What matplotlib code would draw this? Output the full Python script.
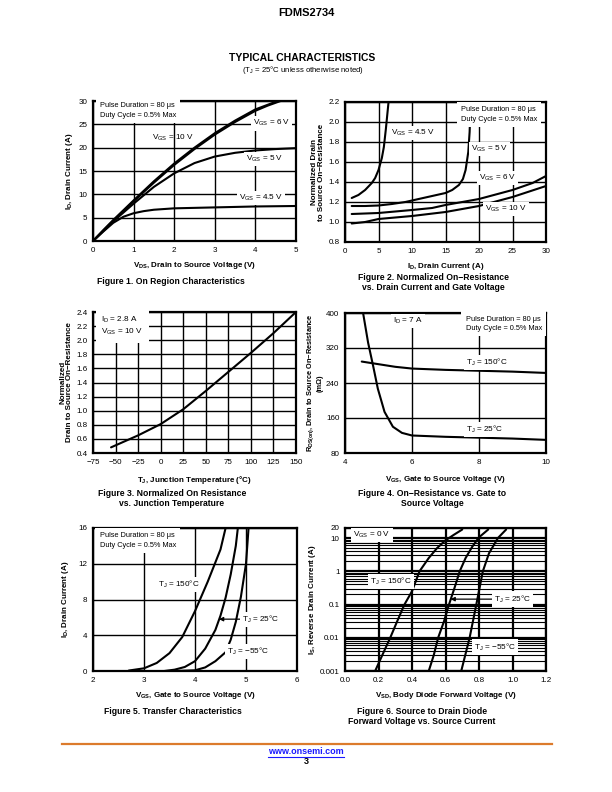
import matplotlib
matplotlib.use('Agg')
import matplotlib.pyplot as plt
from matplotlib.lines import Line2D
from matplotlib.ticker import LogLocator, NullFormatter

plt.rcParams['font.family'] = ['Liberation Sans', 'DejaVu Sans']
plt.rcParams['mathtext.default'] = 'regular'

# ---- Figure 1: on region (VDS, ID) ----
f1_x10 = [0, 0.25, 0.5, 1, 1.5, 2, 2.5, 3, 3.5, 4, 4.55]
f1_y10 = [0, 2.3, 4.5, 8.7, 12.8, 16.6, 20, 23.1, 25.8, 28.2, 30]
f1_x6 = [0, 0.25, 0.5, 1, 1.5, 2, 2.5, 3, 3.5, 4, 4.3, 4.62]
f1_y6 = [0, 2.2, 4.4, 8.5, 12.5, 16.3, 19.7, 22.8, 25.5, 27.9, 29.0, 30]
f1_x5 = [0, 0.25, 0.5, 1, 1.5, 2, 2.5, 3, 3.5, 4, 4.5, 5]
f1_y5 = [0, 2.1, 4.2, 8.0, 11.6, 14.5, 16.7, 18.1, 18.9, 19.4, 19.7, 19.9]
f1_x45 = [0, 0.25, 0.5, 0.75, 1, 1.25, 1.5, 2, 3, 4, 5]
f1_y45 = [0, 2.0, 3.9, 5.2, 5.95, 6.4, 6.7, 7.0, 7.2, 7.4, 7.5]

# ---- Figure 2: normalized Rds(on) vs ID ----
f2_x45 = [1, 2, 3, 4, 4.5, 5, 5.5, 5.8, 6.1, 6.35, 6.5]
f2_y45 = [1.24, 1.27, 1.32, 1.39, 1.44, 1.52, 1.64, 1.75, 1.93, 2.1, 2.2]
f2_x5 = [1, 3, 5, 7, 9, 11, 13, 15, 16, 17, 17.6, 18, 18.4, 18.6, 18.75]
f2_y5 = [1.16, 1.16, 1.165, 1.18, 1.2, 1.23, 1.26, 1.29, 1.32, 1.37, 1.43, 1.52, 1.7, 1.9, 2.2]
f2_x6 = [1, 5, 10, 13, 15, 20, 25, 28, 30]
f2_y6 = [1.08, 1.09, 1.12, 1.14, 1.17, 1.23, 1.32, 1.39, 1.46]
f2_x10 = [1, 3, 5, 10, 15, 20, 25, 30]
f2_y10 = [0.985, 1.0, 1.03, 1.06, 1.1, 1.16, 1.25, 1.36]

# ---- Figure 3: normalized Rds(on) vs TJ ----
f3_t = [-55, -25, 0, 25, 50, 75, 100, 125, 150]
f3_r = [0.48, 0.65, 0.81, 1.02, 1.28, 1.55, 1.82, 2.1, 2.4]

# ---- Figure 4: Rds(on) vs VGS ----
f4_v25 = [4.54, 4.69, 4.84, 4.98, 5.18, 5.43, 5.7, 6, 7, 8, 9, 10]
f4_r25 = [400, 332, 279, 227, 174, 140, 126, 120, 117, 115, 113, 110]
f4_v150 = [4.5, 5, 5.5, 6, 7, 8, 9, 10]
f4_r150 = [289, 283, 277, 273, 270, 268, 266, 263]

# ---- Figure 5: transfer characteristics ----
f5_v150 = [2.7, 3, 3.25, 3.5, 3.75, 4, 4.25, 4.5, 4.6]
f5_i150 = [0.05, 0.3, 0.9, 2.0, 3.8, 6.7, 10, 13.6, 16]
f5_v25 = [3.4, 3.6, 3.8, 4, 4.2, 4.4, 4.5, 4.6, 4.7, 4.8, 4.84]
f5_i25 = [0, 0.15, 0.45, 1.1, 2.5, 4.6, 6.2, 8.2, 10.8, 14, 16]
f5_vm55 = [3.6, 4, 4.2, 4.4, 4.6, 4.7, 4.8, 4.9, 5.0, 5.05]
f5_im55 = [0, 0.08, 0.4, 1.1, 2.1, 3.5, 5.5, 8.3, 12, 16]

# ---- Figure 6: body diode ----
f6_v150 = [0.18, 0.22, 0.27, 0.31, 0.355, 0.4, 0.445, 0.5, 0.55, 0.6, 0.65, 0.7]
f6_i150 = [0.001, 0.0028, 0.01, 0.03, 0.1, 0.25, 1, 2.5, 5, 8.5, 12.5, 18]
f6_v25 = [0.5, 0.53, 0.556, 0.59, 0.621, 0.655, 0.685, 0.72, 0.76, 0.8, 0.855]
f6_i25 = [0.001, 0.003, 0.01, 0.03, 0.1, 0.33, 1, 2.5, 5.5, 10.5, 18]
f6_vm55 = [0.694, 0.744, 0.784, 0.823, 0.86, 0.913, 0.962]
f6_im55 = [0.001, 0.01, 0.1, 1, 3.5, 10, 18]

W, H = 612, 792
fig = plt.figure(figsize=(W / 100, H / 100), dpi=100)

def box(x0, y0, x1, y1):
    return [x0 / W, 1 - y1 / H, (x1 - x0) / W, (y1 - y0) / H]

def ftext(x, y, s, **kw):
    fig.text(x / W, 1 - y / H, s, ha='center', va='center', **kw)

def style(ax):
    for sp in ax.spines.values():
        sp.set_linewidth(1.6)
    ax.tick_params(length=0, pad=4, labelsize=5.8)
    ax.grid(True, color='black', lw=1.0)
    ax.set_axisbelow(True)

white = dict(fc='white', ec='none', pad=1.5)
lab = dict(fontsize=5.8, fontweight='bold')
cap = dict(fontsize=6.2, fontweight='bold')
curve = dict(color='black', lw=1.5, solid_capstyle='round', zorder=3)
fs = 5.9
pulse = 'Pulse Duration = 80 μs\nDuty Cycle = 0.5% Max'
pbox = dict(fc='white', ec='none', pad=3)

# header
ftext(306, 13, 'FDMS2734', fontsize=8, fontweight='bold')
ftext(302, 58, 'TYPICAL CHARACTERISTICS', fontsize=7.5, fontweight='bold')
ftext(303, 70, '(T$_J$ = 25°C unless otherwise noted)', fontsize=5.6)

# Figure 1
ax = fig.add_axes(box(93, 101, 296, 241))
style(ax)
ax.plot(f1_x10, f1_y10, **curve)
ax.plot(f1_x6, f1_y6, **curve)
ax.plot(f1_x5, f1_y5, **curve)
ax.plot(f1_x45, f1_y45, **curve)
ax.set_xlim(0, 5)
ax.set_ylim(0, 30)
ax.set_xticks(range(0, 6))
ax.set_yticks(range(0, 31, 5))
ax.text(0.17, 28.0, pulse, fontsize=5.3, va='center', linespacing=1.5, bbox=pbox, zorder=4)
ax.text(1.45, 22, 'V$_{GS}$ = 10 V', fontsize=fs, va='center', zorder=4)
ax.text(3.93, 25.2, 'V$_{GS}$ = 6 V', fontsize=fs, va='center', bbox=white, zorder=4)
ax.text(3.76, 17.5, 'V$_{GS}$ = 5 V', fontsize=fs, va='center', bbox=white, zorder=4)
ax.text(3.6, 9.2, 'V$_{GS}$ = 4.5 V', fontsize=fs, va='center', bbox=white, zorder=4)
ax.set_xlabel('V$_{DS}$, Drain to Source Voltage (V)', **lab)
ax.set_ylabel('I$_D$, Drain Current (A)', **lab)
ax.xaxis.set_label_coords(0.5, -0.136)
ax.yaxis.set_label_coords(-0.089, 0.5)
ftext(171, 282, 'Figure 1. On Region Characteristics', **cap)

# Figure 2
ax = fig.add_axes(box(345, 102, 546, 242))
style(ax)
ax.plot(f2_x45, f2_y45, **curve)
ax.plot(f2_x5, f2_y5, **curve)
ax.plot(f2_x6, f2_y6, **curve)
ax.plot(f2_x10, f2_y10, **curve)
ax.set_xlim(0, 30)
ax.set_ylim(0.8, 2.2)
ax.set_xticks(range(0, 31, 5))
ax.set_yticks([0.8, 1.0, 1.2, 1.4, 1.6, 1.8, 2.0, 2.2])
ax.text(17.3, 2.075, pulse, fontsize=5.3, va='center', linespacing=1.5, bbox=pbox, zorder=4)
ax.text(6.8, 1.89, 'V$_{GS}$ = 4.5 V', fontsize=fs, va='center', bbox=white, zorder=4)
ax.text(18.8, 1.73, 'V$_{GS}$ = 5 V', fontsize=fs, va='center', bbox=white, zorder=4)
ax.text(20.0, 1.44, 'V$_{GS}$ = 6 V', fontsize=fs, va='center', bbox=white, zorder=4)
ax.text(20.9, 1.13, 'V$_{GS}$ = 10 V', fontsize=fs, va='center', bbox=white, zorder=4)
ax.set_xlabel('I$_D$, Drain Current (A)', **lab)
ax.set_ylabel('Normalized Drain\nto Source On−Resistance', linespacing=1.0, **lab)
ax.xaxis.set_label_coords(0.5, -0.136)
ax.yaxis.set_label_coords(-0.1, 0.5)
ftext(433, 277, 'Figure 2. Normalized On−Resistance', **cap)
ftext(433, 288, 'vs. Drain Current and Gate Voltage', **cap)

# Figure 3
ax = fig.add_axes(box(93, 312, 296, 453))
style(ax)
ax.plot(f3_t, f3_r, **curve)
ax.set_xlim(-75, 150)
ax.set_ylim(0.4, 2.4)
ax.set_xticks(range(-75, 151, 25))
ax.set_yticks([0.4, 0.6, 0.8, 1.0, 1.2, 1.4, 1.6, 1.8, 2.0, 2.2, 2.4])
ax.text(-66, 2.2, 'I$_D$ = 2.8 A\nV$_{GS}$ = 10 V', fontsize=fs, va='center', linespacing=1.3,
        bbox=dict(fc='white', ec='none', pad=4), zorder=4)
ax.set_xlabel('T$_J$, Junction Temperature (°C)', **lab)
ax.set_ylabel('Normalized\nDrain to Source On−Resistance', linespacing=1.0, **lab)
ax.xaxis.set_label_coords(0.5, -0.149)
ax.yaxis.set_label_coords(-0.097, 0.5)
ftext(172, 493, 'Figure 3. Normalized On Resistance', **cap)
ftext(172, 504, 'vs. Junction Temperature', **cap)

# Figure 4
ax = fig.add_axes(box(345, 313, 546, 453))
style(ax)
ax.plot(f4_v25, f4_r25, **curve)
ax.plot(f4_v150, f4_r150, **curve)
ax.set_xlim(4, 10)
ax.set_ylim(80, 400)
ax.set_xticks([4, 6, 8, 10])
ax.set_yticks([80, 160, 240, 320, 400])
ax.text(7.6, 375, pulse, fontsize=5.3, va='center', linespacing=1.5, bbox=pbox, zorder=4)
ax.text(5.43, 381, 'I$_D$ = 7 A', fontsize=fs, va='center', bbox=white, zorder=4)
ax.text(7.6, 287, 'T$_J$ = 150°C', fontsize=fs, va='center', bbox=white, zorder=4)
ax.text(7.6, 133, 'T$_J$ = 25°C', fontsize=fs, va='center', bbox=white, zorder=4)
ax.set_xlabel('V$_{GS}$, Gate to Source Voltage (V)', **lab)
ax.set_ylabel('R$_{DS(on)}$, Drain to Source On−Resistance\n(mΩ)', linespacing=1.0,
              fontsize=5.3, fontweight='bold')
ax.xaxis.set_label_coords(0.5, -0.149)
ax.yaxis.set_label_coords(-0.107, 0.5)
ftext(432, 493, 'Figure 4. On−Resistance vs. Gate to', **cap)
ftext(432, 504, 'Source Voltage', **cap)

# Figure 5
ax = fig.add_axes(box(93, 528, 297, 671))
style(ax)
ax.plot(f5_v150, f5_i150, **curve)
ax.plot(f5_v25, f5_i25, **curve)
ax.plot(f5_vm55, f5_im55, **curve)
ax.set_xlim(2, 6)
ax.set_ylim(0, 16)
ax.set_xticks([2, 3, 4, 5, 6])
ax.set_yticks([0, 4, 8, 12, 16])
ax.text(2.13, 14.6, pulse, fontsize=5.3, va='center', linespacing=1.5, bbox=pbox, zorder=4)
ax.text(3.28, 9.7, 'T$_J$ = 150°C', fontsize=fs, va='center', bbox=white, zorder=4)
ax.annotate('T$_J$ = 25°C', xy=(4.47, 5.8), xytext=(4.92, 5.8), fontsize=fs, va='center',
            bbox=white, zorder=4,
            arrowprops=dict(arrowstyle='-|>', color='black', lw=0.9, mutation_scale=6, shrinkA=0, shrinkB=0))
ax.text(4.62, 2.15, 'T$_J$ = −55°C', fontsize=fs, va='center', bbox=white, zorder=4)
ax.set_xlabel('V$_{GS}$, Gate to Source Voltage (V)', **lab)
ax.set_ylabel('I$_D$, Drain Current (A)', **lab)
ax.xaxis.set_label_coords(0.5, -0.133)
ax.yaxis.set_label_coords(-0.108, 0.5)
ftext(173, 712, 'Figure 5. Transfer Characteristics', **cap)

# Figure 6
ax = fig.add_axes(box(345, 528, 546, 671))
for sp in ax.spines.values():
    sp.set_linewidth(1.6)
ax.set_yscale('log')
ax.plot(f6_v150, f6_i150, **curve)
ax.plot(f6_v25, f6_i25, **curve)
ax.plot(f6_vm55, f6_im55, **curve)
ax.set_xlim(0, 1.2)
ax.set_ylim(0.001, 20)
ax.set_xticks([0, 0.2, 0.4, 0.6, 0.8, 1.0, 1.2])
ax.set_xticklabels(['0.0', '0.2', '0.4', '0.6', '0.8', '1.0', '1.2'])
ax.set_yticks([0.001, 0.01, 0.1, 1, 10, 20])
ax.set_yticklabels(['0.001', '0.01', '0.1', '1', '10', '20'])
ax.yaxis.set_minor_locator(LogLocator(base=10, subs=range(2, 10)))
ax.yaxis.set_minor_formatter(NullFormatter())
ax.tick_params(which='both', length=0, pad=4, labelsize=5.8)
ax.grid(True, which='major', color='black', lw=1.6)
ax.grid(True, which='minor', axis='y', color='black', lw=0.8)
ax.set_axisbelow(True)
ax.text(0.05, 12.6, 'V$_{GS}$ = 0 V', fontsize=fs, va='center', bbox=white, zorder=4)
ax.text(0.15, 0.49, 'T$_J$ = 150°C', fontsize=fs, va='center', bbox=white, zorder=4)
ax.annotate('T$_J$ = 25°C', xy=(0.63, 0.145), xytext=(0.89, 0.145), fontsize=fs, va='center',
            bbox=white, zorder=4,
            arrowprops=dict(arrowstyle='-|>', color='black', lw=0.9, mutation_scale=6, shrinkA=0, shrinkB=0))
ax.text(0.77, 0.0053, 'T$_J$ = −55°C', fontsize=fs, va='center', bbox=white, zorder=4)
ax.set_xlabel('V$_{SD}$, Body Diode Forward Voltage (V)', **lab)
ax.set_ylabel('I$_S$, Reverse Drain Current (A)', **lab)
ax.xaxis.set_label_coords(0.5, -0.133)
ax.yaxis.set_label_coords(-0.135, 0.5)
ftext(422, 711, 'Figure 6. Source to Drain Diode', **cap)
ftext(422, 721, 'Forward Voltage vs. Source Current', **cap)

# footer
fig.add_artist(Line2D([62 / W, 552 / W], [1 - 744 / H, 1 - 744 / H], color='#dc7b2c', lw=1.6))
ftext(306, 752, 'www.onsemi.com', fontsize=6.5, fontweight='bold', color='#1a1aff')
fig.add_artist(Line2D([268 / W, 344 / W], [1 - 756.5 / H, 1 - 756.5 / H], color='#1a1aff', lw=0.8))
ftext(306, 762, '3', fontsize=6.5, fontweight='bold')

fig.savefig('out.png', dpi=100)
